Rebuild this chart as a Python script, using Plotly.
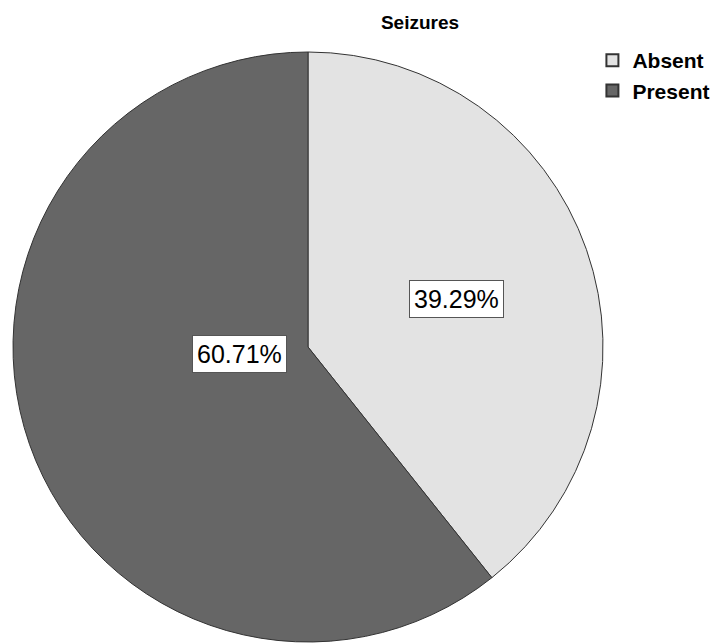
import plotly.graph_objects as go

categories = ["Absent", "Present"]
percentages = [39.29, 60.71]
colors = ["#e3e3e3", "#666666"]

W, H = 726, 643
# pie domain in pixels
left, right, top, bottom = 12, 604, 52, 642

fig = go.Figure()
fig.add_trace(go.Pie(
    labels=categories,
    values=percentages,
    sort=False,
    direction="clockwise",
    rotation=0,
    textinfo="none",
    hoverinfo="label+percent",
    marker=dict(colors=colors, line=dict(color="#333333", width=1)),
    domain=dict(x=[left / W, right / W], y=[1 - bottom / H, 1 - top / H]),
    showlegend=True,
))

# label positions (pixel positions of box centres)
label_px = [(456, 299), (192, 354)]
for cat, val, (px, py) in zip(categories, percentages, label_px):
    fig.add_annotation(
        x=px / W, y=1 - py / H, xref="paper", yref="paper",
        text=f"{val:.2f}%", showarrow=False,
        font=dict(family="Liberation Sans, Arial", size=25, color="#000000"),
        bgcolor="#ffffff", bordercolor="#555555", borderwidth=1, borderpad=4,
    )

fig.update_layout(
    width=W, height=H,
    margin=dict(l=0, r=0, t=0, b=0),
    paper_bgcolor="#ffffff",
    plot_bgcolor="#ffffff",
    title=dict(text="<b>Seizures</b>", x=420 / W, y=1 - 22 / H, xanchor="center", yanchor="middle",
               font=dict(family="Liberation Sans, Arial", size=19, color="#000000")),
    legend=dict(x=0.816, y=1 - 40 / H, xanchor="left", yanchor="top",
                font=dict(family="Liberation Sans, Arial", size=21, color="#000000", weight="bold"),
                itemsizing="constant", bgcolor="rgba(0,0,0,0)"),
    legend_itemclick=False,
)

fig.write_html("out.html")
